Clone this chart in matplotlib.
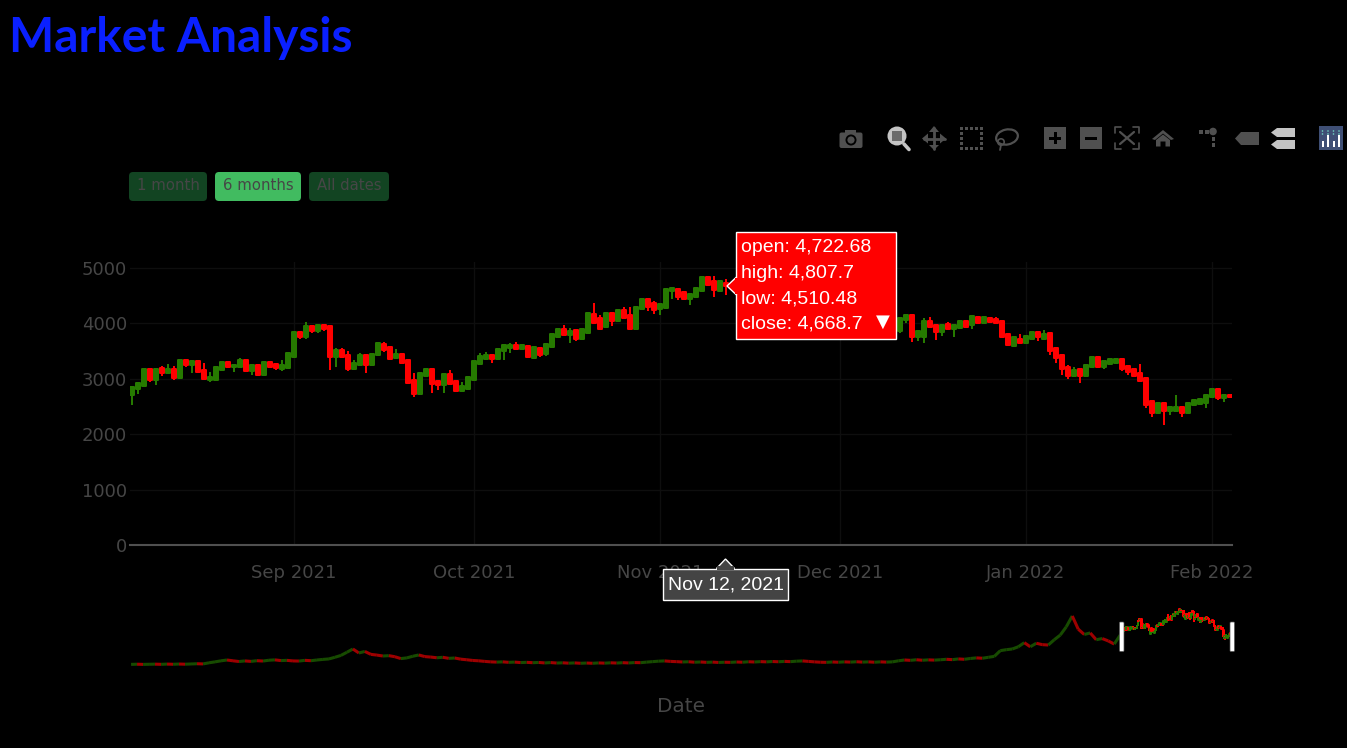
import matplotlib
matplotlib.use("Agg")
import matplotlib.pyplot as plt
import matplotlib.dates as mdates
import numpy as np
import pandas as pd
from matplotlib.patches import Rectangle, FancyBboxPatch, Circle, Polygon, Ellipse
from matplotlib.lines import Line2D
from matplotlib.collections import LineCollection

# ---------- data ----------
opens = [2702,2810,2870,3177,2978,3195,3111,3171,3014,3339,3243,3327,3159,2978,2978,3159,3303,3207,3219,3339,
3147,3243,3063,3297,3267,3183,3195,3400,3845,3761,3953,3857,3965,3947,3400,3520,3436,3183,3243,3424,
3255,3424,3628,3580,3376,3454,3345,2978,2732,3051,3171,2954,2894,3087,2954,2786,2822,2978,3267,3351,
3424,3357,3496,3556,3604,3531,3592,3375,3555,3447,3580,3748,3904,3784,3880,3712,3832,4169,4097,3928,
4181,4049,4241,4151,3892,4253,4434,4362,4253,4278,4578,4614,4566,4434,4482,4590,4831,4759,4590,4722.68,
4668,4650,4625,4590,4220,4290,3990,4310,4440,4270,4090,4350,4270,4520,4040,4100,4290,4440,4630,4590,
4510,4220,4120,4200,4350,4310,4430,4110,3869,4061,4146,3761,3761,4037,3977,3845,3989,3893,3917,4049,
3965,4122,4013,4098,4086,4049,3809,3592,3725,3652,3712,3845,3725,3821,3550,3424,3219,3051,3171,3051,
3207,3400,3219,3267,3279,3364,3231,3171,3099,3015,2593,2377,2557,2413,2425,2497,2389,2521,2545,2569,
2678,2810,2654,2714]
highs = [2846,2942,3177,3177,3177,3231,3267,3231,3339,3339,3321,3327,3279,3123,3207,3303,3303,3255,3376,3339,
3243,3243,3297,3297,3267,3339,3460,3845,3845,4025,3953,3965,3965,3947,3556,3556,3496,3339,3460,3424,
3448,3640,3664,3580,3532,3454,3345,3099,3099,3171,3171,2954,3087,3159,2954,2942,3027,3327,3460,3484,
3424,3532,3604,3640,3664,3616,3592,3580,3555,3628,3808,3892,3965,3917,3880,3892,4181,4362,4157,4181,
4181,4241,4290,4302,4302,4446,4434,4398,4350,4614,4663,4614,4566,4530,4632,4831,4831,4855,4783,4807.7,
4700,4690,4770,4700,4300,4350,4340,4450,4450,4300,4380,4370,4550,4550,4190,4300,4460,4750,4780,4620,
4650,4240,4240,4360,4420,4440,4490,4230,4098,4170,4146,3869,4098,4110,3977,3977,4025,3965,4049,4049,
4134,4122,4122,4098,4122,4049,3809,3773,3809,3773,3845,3845,3881,3845,3550,3424,3243,3207,3171,3255,
3400,3400,3327,3351,3364,3364,3231,3171,3267,3015,2617,2557,2557,2485,2714,2497,2557,2617,2629,2702,
2810,2810,2714,2714]
lows = [2533,2726,2870,2942,2894,3051,3111,2978,3014,3207,3111,3123,2990,2942,2978,3159,3207,3123,3219,3147,
3075,3063,3063,3219,3159,3147,3195,3400,3712,3712,3821,3833,3869,3159,3219,3400,3147,3183,3243,3111,
3255,3424,3484,3351,3376,3291,2930,2678,2732,3051,2738,2798,2738,2906,2786,2786,2822,2978,3267,3351,
3279,3357,3339,3472,3532,3531,3387,3375,3399,3411,3580,3748,3796,3652,3676,3712,3832,4013,3880,3928,
3953,4049,4097,3892,3892,4253,4229,4169,4145,4278,4446,4422,4446,4326,4482,4590,4699,4482,4578,4510.48,
4605,4510,4560,4100,4060,3960,3930,4210,4230,3980,4060,4180,4240,3920,4030,3960,4280,4360,4500,4430,
4100,3700,3910,4050,4270,4270,4080,3880,3833,4001,3664,3688,3652,3929,3700,3773,3893,3761,3917,3941,
3893,4013,4013,4001,4013,3761,3604,3592,3628,3652,3712,3676,3712,3424,3291,3075,2990,3051,2930,3051,
3207,3207,3183,3267,3279,3147,3075,3051,2966,2473,2305,2377,2160,2353,2413,2317,2365,2521,2545,2473,
2678,2617,2581,2666]
closes = [2846,2918,3177,2978,3177,3111,3171,3014,3339,3243,3321,3123,2990,3039,3207,3303,3207,3255,3339,3147,
3243,3063,3297,3219,3195,3243,3460,3845,3749,3953,3857,3965,3905,3400,3520,3400,3171,3279,3424,3243,
3448,3640,3520,3351,3448,3291,2930,2726,3099,3171,2906,2882,3087,2906,2786,2870,3027,3327,3412,3436,
3351,3532,3604,3616,3532,3616,3387,3580,3435,3628,3808,3892,3796,3868,3712,3892,4181,4013,3904,4181,
4037,4241,4097,3892,4302,4446,4290,4241,4350,4614,4632,4470,4446,4530,4632,4831,4699,4602,4759,4668.7,
4650,4625,4590,4220,4290,3990,4310,4440,4270,4090,4350,4270,4520,4040,4100,4290,4440,4630,4590,4510,
4220,4120,4200,4350,4310,4430,4110,3900,4098,4158,3761,3869,4049,3929,3845,3977,3893,3965,4049,3941,
4134,4013,4122,4025,4013,3761,3604,3749,3640,3773,3845,3749,3809,3508,3376,3171,3051,3159,3051,3255,
3400,3207,3327,3351,3364,3183,3123,3051,2966,2533,2389,2557,2413,2485,2485,2389,2557,2617,2629,2702,
2810,2654,2714,2666]
first_day = "2021-08-05"

overview_closes = [95,110,95,105,115,100,120,105,125,110,130,150,135,230,310,400,470,400,340,390,
350,410,380,450,480,420,440,390,380,440,410,470,520,560,700,860,1130,1410,1070,1200,
950,890,810,840,750,590,650,790,900,760,720,660,700,610,640,540,490,430,400,350,
310,290,310,270,290,250,270,240,260,220,250,210,230,200,220,190,210,190,220,200,
230,210,240,220,250,240,290,330,370,390,350,330,300,320,280,300,270,290,260,280,
270,300,280,320,300,330,310,340,320,350,330,370,390,350,310,280,270,300,280,310,
290,320,290,310,280,310,290,310,400,470,440,490,450,480,460,490,530,500,560,530,
600,650,620,700,780,1270,1350,1410,1600,1950,1600,1900,1780,1750,2200,2600,3300,4230,3100,2650,
2780,2200,2300,2100,1830,2600]

month_ticks = ["2021-09-01","2021-10-01","2021-11-01","2021-12-01","2022-01-01","2022-02-01"]
price_ticks = [0,1000,2000,3000,4000,5000]
button_labels = ["1 month","6 months","All dates"]
tooltip_lines = ["open: 4,722.68","high: 4,807.7","low: 4,510.48","close: 4,668.7"]
title_text = "Market Analysis"
date_label = "Nov 12, 2021"
x_title = "Date"

# ---------- style ----------
W, H = 1347, 748
GREEN, RED = "#267a00", "#ff0000"
DIM = "#464646"
plt.rcParams["font.family"] = ["DejaVu Sans"]
fig = plt.figure(figsize=(W/100, H/100), dpi=100, facecolor="black")

def axes_px(x0, y0, x1, y1, **kw):
    return fig.add_axes([x0/W, 1-y1/H, (x1-x0)/W, (y1-y0)/H], **kw)

def candles(ax, d, o, h, l, c, lw, width):
    d = np.asarray(d, float); o = np.asarray(o, float); h = np.asarray(h, float)
    l = np.asarray(l, float); c = np.asarray(c, float)
    cols = [GREEN if a >= b else RED for a, b in zip(c, o)]
    ax.vlines(d, l, h, colors=cols, linewidth=lw, zorder=3)
    bars = ax.bar(d, np.abs(c-o), bottom=np.minimum(o, c), width=width, color=cols,
                  edgecolor=cols, linewidth=lw, zorder=3)
    for b in bars:
        b.set_joinstyle("round")

dates = mdates.date2num(pd.date_range(first_day, periods=len(opens)))
hover_day = mdates.date2num(pd.Timestamp("2021-11-12"))

# ---------- main chart ----------
ax = axes_px(130, 262, 1232, 545, facecolor="black")
candles(ax, dates, opens, highs, lows, closes, 1.44, 0.55)
ax.set_xlim(hover_day-99.33, hover_day+84.33)
ax.set_ylim(0, 5108)
ax.set_xticks(mdates.date2num(pd.to_datetime(month_ticks)))
ax.xaxis.set_major_formatter(mdates.DateFormatter("%b %Y"))
ax.set_yticks(price_ticks)
ax.grid(True, color="#0e0e0e", linewidth=1.0, zorder=0)
ax.set_axisbelow(True)
for s in ax.spines.values():
    s.set_visible(False)
ax.spines["bottom"].set_visible(True)
ax.spines["bottom"].set_color("#505050")
ax.spines["bottom"].set_linewidth(1.5)
ax.tick_params(axis="both", length=0, labelcolor=DIM, labelsize=13)
ax.tick_params(axis="x", pad=13.7)
ax.tick_params(axis="y", pad=2)

# ---------- range slider ----------
sl = axes_px(130, 608, 1232, 666, facecolor="black")
ov_dates = mdates.date2num(pd.date_range("2017-02-05", "2021-08-03", periods=len(overview_closes)))
ov_pts = np.column_stack([ov_dates, overview_closes])
ov_segs = np.stack([ov_pts[:-1], ov_pts[1:]], axis=1)
ov_cols = [GREEN if b >= a else RED for a, b in zip(overview_closes[:-1], overview_closes[1:])]
sl.add_collection(LineCollection(ov_segs, colors=ov_cols, linewidths=2.2, capstyle="butt", zorder=3))
candles(sl, dates, opens, highs, lows, closes, 1.44, 0.6)
x_end = hover_day+84.33
x_sel = hover_day-99.33
sl.set_xlim(x_sel-(1121-130)/0.603, x_end)
sl.set_ylim(-43, 4910)
sl.axis("off")
sl.add_patch(Rectangle((sl.get_xlim()[0], -43), x_sel-sl.get_xlim()[0], 4953,
                       facecolor="black", alpha=0.38, edgecolor="none", zorder=5))

# ---------- overlay in pixel space ----------
ov = fig.add_axes([0, 0, 1, 1], facecolor="none")
ov.set_xlim(0, W); ov.set_ylim(H, 0); ov.axis("off")

# slider handles
for x0 in (1119.5, 1230):
    ov.add_patch(FancyBboxPatch((x0+0.5, 622.5), 3.5, 28.5, boxstyle="round,pad=0.5,rounding_size=1",
                                facecolor="white", edgecolor="#555555", linewidth=0.5))

# title
ov.text(9, 52, title_text, color="#0a20ff", fontsize=34.5, family="Lato", weight="bold",
        ha="left", va="baseline")
ov.text(681, 706, x_title, color=DIM, fontsize=14.4, ha="center", va="center")

# range buttons
btn = [(129, 207), (215, 301), (309, 389)]
for (a, b), t, on in zip(btn, button_labels, (False, True, False)):
    ov.add_patch(FancyBboxPatch((a+3, 175), b-a-6, 23, boxstyle="round,pad=3,rounding_size=4",
                                facecolor="#41bb60" if on else "#124422", edgecolor="none"))
    ov.text((a+b)/2, 185.5, t, color=DIM, fontsize=10.7, ha="center", va="center")

# hover tooltip
ov.add_patch(Polygon([[727, 286], [736.5, 277], [736.5, 295]], closed=True, facecolor="#ff0000",
                     edgecolor="white", linewidth=1))
ov.add_patch(Rectangle((736, 232), 160, 107, facecolor="#ff0000", edgecolor="white", linewidth=1))
ov.add_patch(Rectangle((735, 278), 3, 16, facecolor="#ff0000", edgecolor="none"))
for t, yy in zip(tooltip_lines, (247.5, 273, 298.5, 323.5)):
    ov.text(741, yy, t, color="white", fontsize=14, family="Liberation Sans", ha="left", va="center")
ov.text(883, 322, "\u25bc", color="white", fontsize=13, family="DejaVu Sans", ha="center", va="center")

# date hover label
ov.add_patch(Polygon([[725.5, 559], [716.5, 568.5], [734.5, 568.5]], closed=True, facecolor="#444444",
                     edgecolor="white", linewidth=1))
ov.add_patch(Rectangle((663, 568.5), 125, 31, facecolor="#444444", edgecolor="white", linewidth=1))
ov.add_patch(Rectangle((717, 566), 17, 4, facecolor="#444444", edgecolor="none"))
ov.text(725.5, 584.5, date_label, color="white", fontsize=14, family="Liberation Sans",
        ha="center", va="center")

# ---------- modebar ----------
G = "#505050"; L = "#c4c4c4"
def rect(x, y, w, h, c=G, **k):
    ov.add_patch(Rectangle((x, y), w, h, facecolor=c, edgecolor="none", **k))
def line(xs, ys, c=G, lw=1.2, **k):
    ov.add_line(Line2D(xs, ys, color=c, linewidth=lw, solid_capstyle="round", **k))

# camera
ov.add_patch(FancyBboxPatch((840, 133), 22, 14.5, boxstyle="round,pad=0.5,rounding_size=2", facecolor=G, edgecolor="none"))
rect(845, 129.5, 11, 4)
ov.add_patch(Circle((851, 140), 5.5, facecolor="black", edgecolor="none"))
ov.add_patch(Circle((851, 140), 3.6, facecolor=G, edgecolor="none"))
# zoom (active)
ov.add_patch(Circle((897, 136), 9.5, facecolor=L, edgecolor="none"))
rect(892, 131, 10, 10, "#6a6a6a")
line([904, 909], [144, 149.5], L, 2.6)
# pan
line([934, 934], [128, 149], G, 2); line([923.5, 945], [138.5, 138.5], G, 2)
for p in ([[934, 126], [929, 132], [939, 132]], [[934, 150], [929, 145], [939, 145]],
          [[922, 138.5], [928, 133.5], [928, 143.5]], [[946, 138.5], [940, 133.5], [940, 143.5]]):
    ov.add_patch(Polygon(p, closed=True, facecolor=G, edgecolor="none"))
# box select
for i in range(5):
    for (px, py) in ((960+i*5, 127), (960+i*5, 147), (960, 127+i*5), (980, 127+i*5)):
        rect(px, py, 3, 3)
# lasso
ov.add_patch(Ellipse((1007, 137), 22, 15, angle=-12, facecolor="none", edgecolor=G, linewidth=1.6))
ov.add_patch(Circle((1001, 142), 3.2, facecolor="none", edgecolor=G, linewidth=1.2))
line([1001, 1000], [145, 150], G, 1.3)
# zoom in / out
rect(1044, 127, 22, 22); rect(1080, 127, 22, 22)
rect(1049, 136.5, 12, 3, "black"); rect(1053.5, 132, 3, 12, "black"); rect(1085, 136.5, 12, 3, "black")
# autoscale
for x, y, dx, dy in ((1115, 127, 6, 6), (1139, 127, -6, 6), (1115, 149, 6, -6), (1139, 149, -6, -6)):
    line([x+dx, x, x], [y, y, y+dy], G, 1.2)
line([1120, 1134], [132, 144], G, 1.6); line([1134, 1120], [132, 144], G, 1.6)
# home
ov.add_patch(Polygon([[1152, 139], [1163, 130], [1174, 139], [1171, 140], [1163, 133.5], [1155, 140]], closed=True, facecolor=G, edgecolor="none"))
ov.add_patch(Polygon([[1156, 140], [1163, 134.5], [1170, 140], [1170, 146.5], [1165.5, 146.5], [1165.5, 141.5], [1160.5, 141.5], [1160.5, 146.5], [1156, 146.5]], closed=True, facecolor=G, edgecolor="none"))
# spikes
ov.add_patch(Circle((1213, 131.5), 3.8, facecolor=G, edgecolor="none"))
rect(1199, 130, 3.5, 3.5); rect(1205, 130, 3.5, 3.5)
rect(1211.5, 137, 3.5, 3.5); rect(1211.5, 143, 3.5, 3.5)
# hover closest / compare
def tag(x0, x1, y0, y1, c):
    ov.add_patch(Polygon([[x0, (y0+y1)/2], [x0+6, y0], [x1, y0], [x1, y1], [x0+6, y1]], closed=True, facecolor=c, edgecolor="none"))
tag(1235, 1259, 132, 145, G)
tag(1271, 1295, 128, 137, L); tag(1271, 1295, 140, 149, L)
# logo
rect(1319, 126, 24, 24, "#3f4f75")
for i in range(4):
    xx = 1322.5+i*5.5
    for yy in (131, 134):
        ov.add_patch(Circle((xx, yy), 0.8, facecolor="#6fd0c0", edgecolor="none"))
    rect(xx-1, 147-(4+(i % 2)*6+2), 2.2, 4+(i % 2)*6+2, "white")

fig.savefig("out.png", dpi=100, facecolor="black")
